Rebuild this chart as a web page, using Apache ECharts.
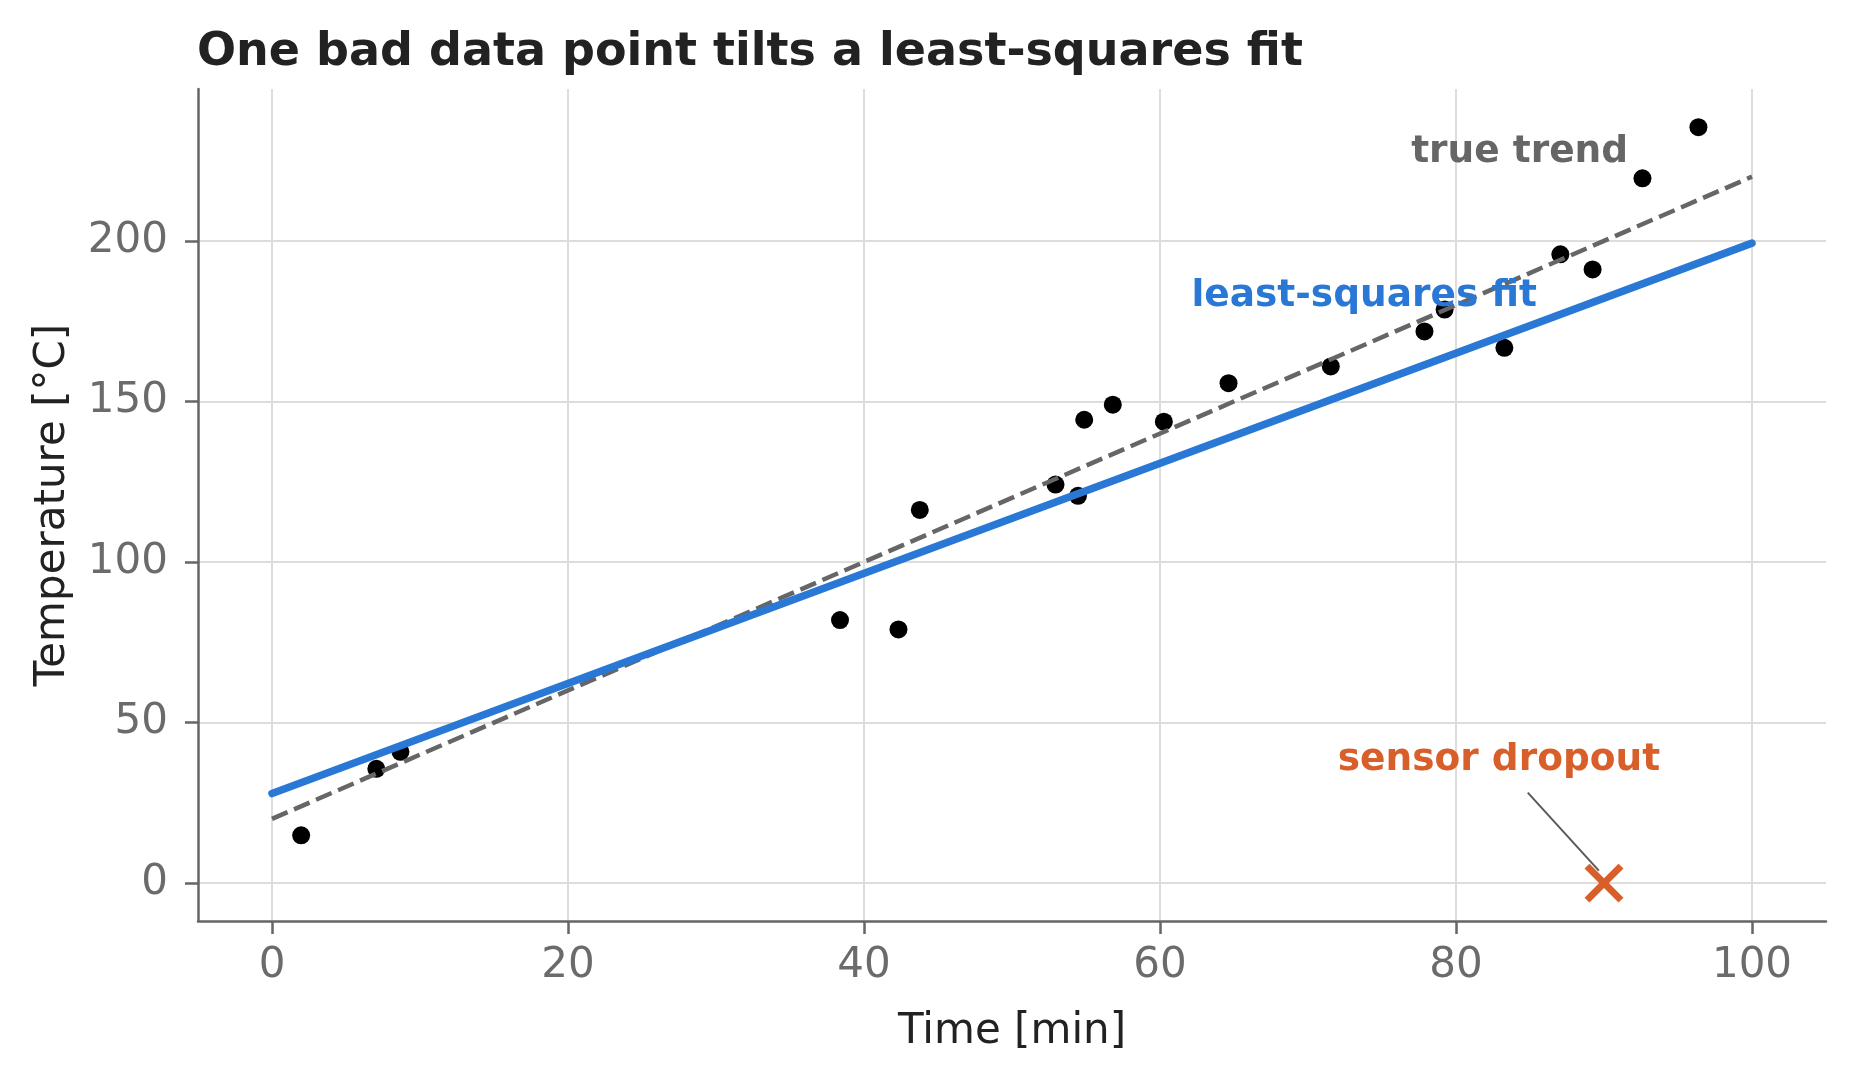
<!DOCTYPE html>
<html>
<head>
<meta charset="utf-8">
<script src="https://cdn.jsdelivr.net/npm/echarts@6/dist/echarts.min.js"></script>
<style>
html, body { margin: 0; padding: 0; background: #fff; }
#main { width: 1854px; height: 1081px; }
</style>
</head>
<body>
<div id="main"></div>
<script>
// readings taken off the plot
var sampleTime = [1.97, 7.05, 8.68, 38.38, 42.33, 43.77, 52.94, 54.46, 54.88, 56.81,
	60.26, 64.63, 71.54, 77.87, 79.23, 83.27, 87.05, 89.23, 92.6, 96.38];
var sampleTemp = [14.9, 35.6, 40.9, 81.9, 79.0, 116.2, 124.1, 120.6, 144.3, 149.0,
	143.7, 155.7, 160.9, 171.8, 178.6, 166.7, 195.8, 191.1, 219.5, 235.4];
var dropoutPoint = [90, 0];
var trueTrend = [[0, 20], [100, 220]];
var lsFit = [[0, 27.9], [100, 199.3]];
var xTicks = [0, 20, 40, 60, 80, 100];
var yTicks = [0, 50, 100, 150, 200];

// annotation text: [text, x, y, colour]
var notes = [
	['true trend', 84.3, 227.6, '#666666'],
	['least-squares fit', 73.8, 182.9, '#2a78d6'],
	['sensor dropout', 82.9, 38.3, '#d95f2a']
];
var arrowLine = [[84.85, 28.2], [89.65, 3.9]];

var FONT = 'DejaVu Sans';

var points = [];
for (var i = 0; i < sampleTime.length; i++) {
	points.push([sampleTime[i], sampleTemp[i]]);
}

var noteData = notes.map(function (n) {
	return {
		value: [n[1], n[2]],
		label: { formatter: n[0], color: n[3] }
	};
});

function renderCross(params, api) {
	var p = api.coord([api.value(0), api.value(1)]);
	var h = 17;
	var style = { stroke: '#d95f2a', lineWidth: 7, fill: null };
	return {
		type: 'group',
		children: [
			{ type: 'line', shape: { x1: p[0] - h, y1: p[1] - h, x2: p[0] + h, y2: p[1] + h }, style: style },
			{ type: 'line', shape: { x1: p[0] - h, y1: p[1] + h, x2: p[0] + h, y2: p[1] - h }, style: style }
		]
	};
}

var axisCommon = {
	axisLine: { show: true, onZero: false, lineStyle: { color: '#666666', width: 2.5 } },
	axisTick: { show: true, length: 13, lineStyle: { color: '#666666', width: 2.5 } },
	splitLine: { show: true, lineStyle: { color: '#dddddd', width: 2 } },
	minorTick: { show: false },
	nameTextStyle: { fontFamily: FONT, fontSize: 42, color: '#222222' }
};

var myChart = echarts.init(document.getElementById('main'), null, { renderer: 'canvas' });

var option = {
	backgroundColor: '#ffffff',
	animation: false,
	title: {
		text: 'One bad data point tilts a least-squares fit',
		left: 192,
		top: 25,
		textStyle: { fontFamily: FONT, fontSize: 46, fontWeight: 'bold', color: '#222222' }
	},
	grid: { left: 198, right: 28, top: 89, bottom: 160, containLabel: false },
	xAxis: Object.assign({}, axisCommon, {
		type: 'value',
		min: -5,
		max: 105,
		name: 'Time [min]',
		nameLocation: 'middle',
		nameGap: 90,
		axisTick: Object.assign({}, axisCommon.axisTick, { customValues: xTicks }),
		axisLabel: { customValues: xTicks, margin: 24, fontFamily: FONT, fontSize: 42, color: '#6b6b6b' }
	}),
	yAxis: Object.assign({}, axisCommon, {
		type: 'value',
		min: -11.8,
		max: 247.3,
		name: 'Temperature [°C]',
		nameLocation: 'middle',
		nameRotate: 90,
		nameGap: 124,
		axisTick: Object.assign({}, axisCommon.axisTick, { customValues: yTicks }),
		axisLabel: { customValues: yTicks, margin: 30, fontFamily: FONT, fontSize: 42, color: '#6b6b6b' }
	}),
	series: [
		{
			type: 'scatter',
			name: 'readings',
			data: points,
			symbol: 'circle',
			symbolSize: 18,
			itemStyle: { color: '#000000', opacity: 1 },
			z: 2
		},
		{
			type: 'line',
			name: 'true trend',
			data: trueTrend,
			showSymbol: false,
			symbol: 'none',
			lineStyle: { color: '#666666', width: 4.5, type: [17, 7] },
			z: 3
		},
		{
			type: 'line',
			name: 'least-squares fit',
			data: lsFit,
			showSymbol: false,
			symbol: 'none',
			lineStyle: { color: '#2a78d6', width: 7.5, cap: 'round' },
			z: 4
		},
		{
			type: 'line',
			name: 'arrow',
			data: arrowLine,
			showSymbol: false,
			symbol: 'none',
			lineStyle: { color: '#5a5a5a', width: 2 },
			z: 5
		},
		{
			type: 'custom',
			name: 'dropout',
			renderItem: renderCross,
			data: [dropoutPoint],
			clip: false,
			z: 6
		},
		{
			type: 'scatter',
			name: 'notes',
			data: noteData,
			symbolSize: 1,
			itemStyle: { color: 'rgba(0,0,0,0)', opacity: 1 },
			label: {
				show: true,
				position: 'inside',
				fontFamily: FONT,
				fontSize: 37.5,
				fontWeight: 'bold',
				opacity: 1
			},
			z: 7
		}
	]
};

myChart.setOption(option);
</script>
</body>
</html>
